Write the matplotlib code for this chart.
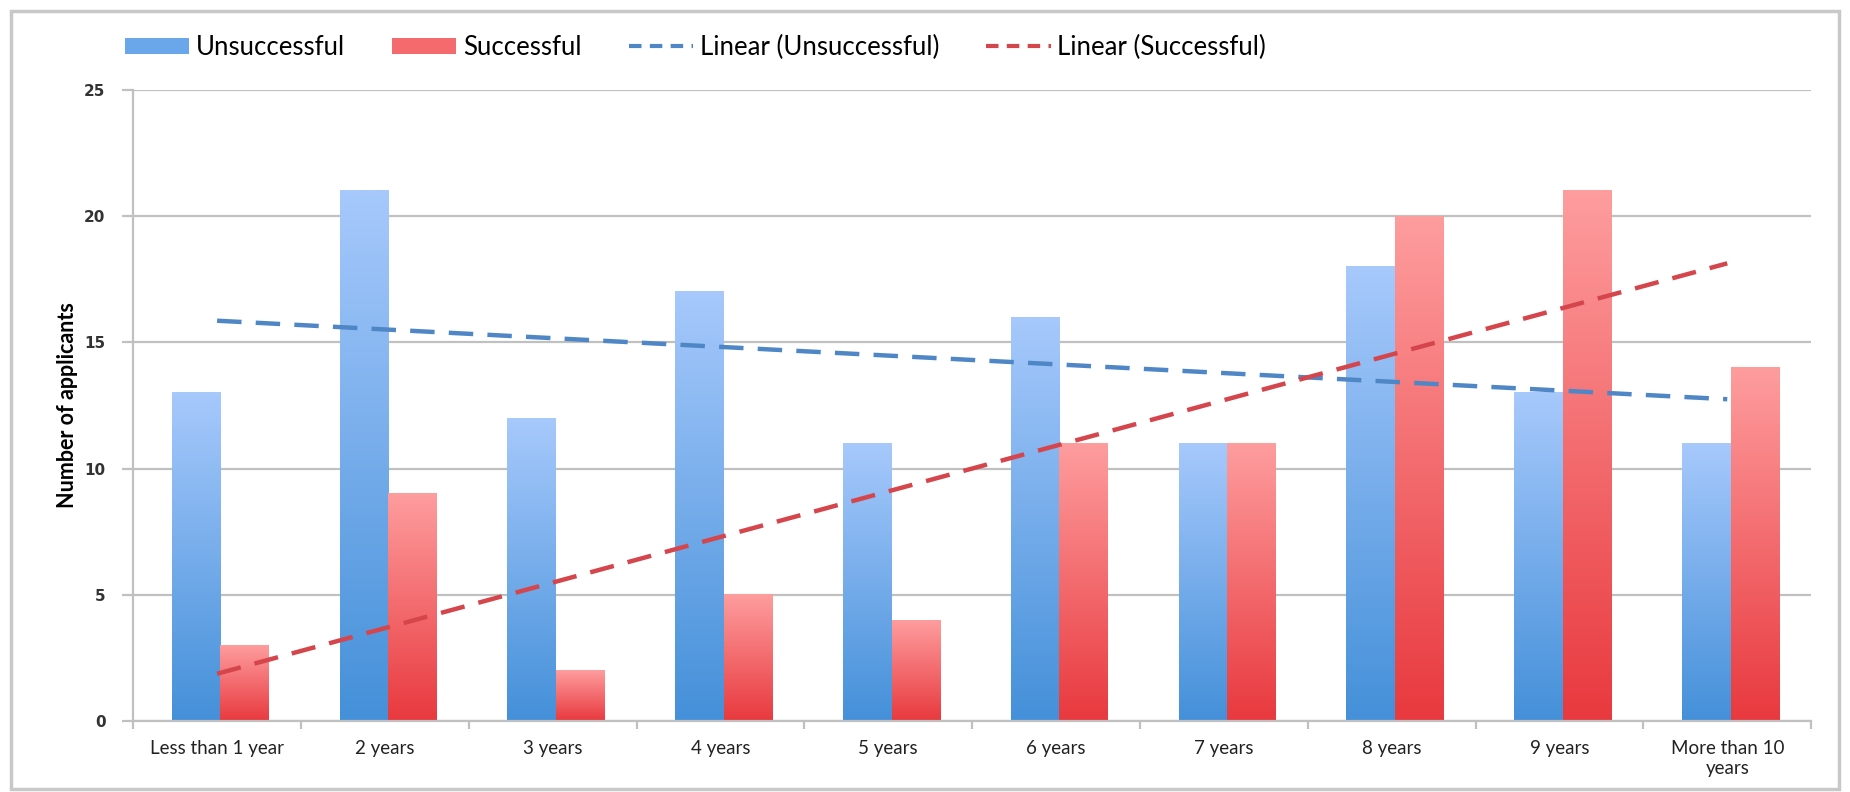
import numpy as np
import matplotlib
matplotlib.use("Agg")
import matplotlib.pyplot as plt
from matplotlib.colors import LinearSegmentedColormap
from matplotlib.patches import Rectangle
from matplotlib.lines import Line2D
from matplotlib.patches import Patch

categories = ["Less than 1 year", "2 years", "3 years", "4 years", "5 years",
              "6 years", "7 years", "8 years", "9 years", "More than 10\nyears"]
unsuccessful = [13, 21, 12, 17, 11, 16, 11, 18, 13, 11]
successful = [3, 9, 2, 5, 4, 11, 11, 20, 21, 14]

narrow = ["Lato", "DejaVu Sans"]

fig = plt.figure(figsize=(18.5, 7.92), dpi=100)
ax = fig.add_axes([0.072, 0.0896, 0.907, 0.797])

# outer chart border
fig.patches.append(Rectangle((0.006, 0.004), 0.988, 0.982, transform=fig.transFigure,
                             fill=False, edgecolor="#c8c8c8", linewidth=2.5))

blue_cmap = LinearSegmentedColormap.from_list("b", ["#4490d9", "#a7c9fc"])
red_cmap = LinearSegmentedColormap.from_list("r", ["#e8393e", "#fe9d9e"])
grad = np.linspace(0, 1, 256).reshape(-1, 1)

x = np.arange(len(categories))
w = 0.29


def gradient_bars(xs, heights, cmap):
    for xc, h in zip(xs, heights):
        ax.imshow(grad, cmap=cmap, origin="lower", aspect="auto",
                  extent=[xc - w / 2, xc + w / 2, 0, h], zorder=2,
                  interpolation="bilinear")


gradient_bars(x - w / 2 + 0.02, unsuccessful, blue_cmap)
gradient_bars(x + w / 2 + 0.02, successful, red_cmap)

# linear trend lines
xt = np.arange(1, len(categories) + 1)
pu = np.polyfit(xt, unsuccessful, 1)
ps = np.polyfit(xt, successful, 1)
ax.plot([x[0], x[-1]], np.polyval(pu, [xt[0], xt[-1]]), color="#4f87c6",
        lw=3.2, dashes=(5.5, 3.2), zorder=3)
ax.plot([x[0], x[-1]], np.polyval(ps, [xt[0], xt[-1]]), color="#d4464c",
        lw=3.2, dashes=(5.5, 3.2), zorder=3)

ax.set_xlim(-0.5, len(categories) - 0.5)
ax.set_ylim(0, 25)
ax.set_yticks([0, 5, 10, 15, 20, 25])
ax.yaxis.grid(True, color="#c0c0c0", lw=1.6)
ax.set_axisbelow(True)
for s in ["top", "right"]:
    ax.spines[s].set_visible(False)
ax.spines["left"].set_color("#c0c0c0")
ax.spines["left"].set_linewidth(1.6)
ax.spines["bottom"].set_color("#c0c0c0")
ax.spines["bottom"].set_linewidth(1.6)

ax.set_xticks(x)
ax.set_xticklabels(categories, fontfamily=narrow, fontsize=13.5, color="#222222")
ax.set_xticks(np.arange(-0.5, len(categories)), minor=True)
ax.tick_params(axis="x", which="major", length=0, pad=14)
ax.tick_params(axis="x", which="minor", length=6, color="#c0c0c0", width=1.6)
ax.tick_params(axis="y", length=8, color="#c0c0c0", width=1.6, pad=12,
               labelsize=11)
for t in ax.get_yticklabels():
    t.set_fontweight("bold")
    t.set_color("#333333")

ax.set_ylabel("Number of applicants", fontfamily=narrow, fontsize=15.5,
              fontweight="bold", labelpad=4)

handles = [
    Patch(facecolor="#6aa6ea", edgecolor="none"),
    Patch(facecolor="#f46a6d", edgecolor="none"),
    Line2D([0], [0], color="#4f87c6", lw=3, dashes=(3, 2)),
    Line2D([0], [0], color="#d4464c", lw=3, dashes=(3, 2)),
]
labels = ["Unsuccessful", "Successful", "Linear (Unsuccessful)", "Linear (Successful)"]
fig.legend(handles, labels, loc="center left", bbox_to_anchor=(0.055, 0.94),
           ncol=4, frameon=False, prop={"family": narrow, "size": 18.5},
           handlelength=2.5, handleheight=0.6, columnspacing=1.85,
           handletextpad=0.25)

fig.savefig("out.png", dpi=100)
